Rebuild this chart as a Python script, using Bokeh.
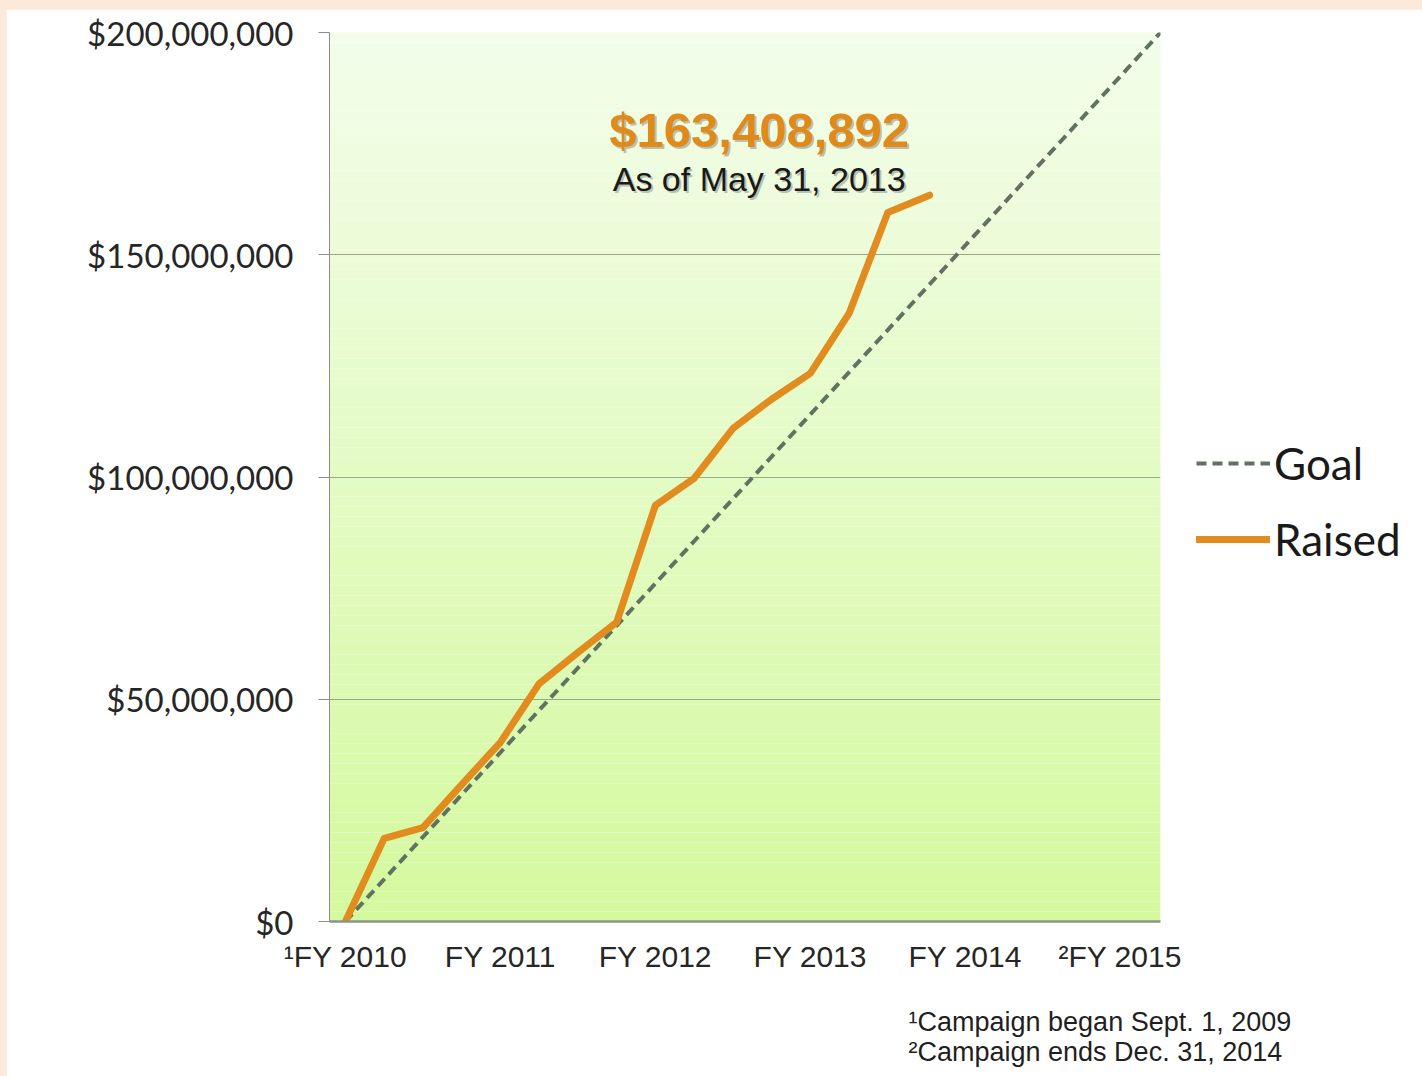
import numpy as np
from bokeh.plotting import figure
from bokeh.models import FixedTicker, Label, Legend, LegendItem, Range1d, Title
from bokeh.layouts import column
from bokeh.embed import file_html
from bokeh.resources import INLINE

# ---------------- data ----------------
fy_positions = [0, 1, 2, 3, 4, 5]
fy_labels = ["¹FY 2010", "FY 2011", "FY 2012", "FY 2013", "FY 2014", "²FY 2015"]

y_ticks = [0, 50_000_000, 100_000_000, 150_000_000, 200_000_000]
y_tick_labels = ["$0", "$50,000,000", "$100,000,000", "$150,000,000", "$200,000,000"]

raised_x = [0.0, 0.25, 0.5, 0.75, 1.0, 1.25, 1.5, 1.75, 2.0, 2.25, 2.5, 2.75, 3.0, 3.25, 3.5, 3.77]
raised_y = [0, 18_700_000, 21_100_000, 30_800_000, 40_300_000, 53_500_000, 60_500_000,
            67_300_000, 93_600_000, 99_700_000, 110_900_000, 117_500_000, 123_300_000,
            136_800_000, 159_500_000, 163_408_892]

goal_x = [0.0, 5.26]
goal_y = [0, 200_000_000]

total_label = "$163,408,892"
as_of_label = "As of May 31, 2013"
footnotes = ["¹Campaign began Sept. 1, 2009", "²Campaign ends Dec. 31, 2014"]

# ---------------- figure ----------------
X0, X1 = -0.103, 5.26
p = figure(frame_width=831, frame_height=889,
           min_border_left=323, min_border_right=262,
           min_border_top=23, min_border_bottom=155,
           x_range=Range1d(X0, X1), y_range=Range1d(0, 200_000_000),
           output_backend="svg", toolbar_location=None,
           background_fill_color="white", border_fill_color="white",
           margin=(9, 0, 0, 6))
p.outline_line_color = None

# gradient plot background (styling)
n = 90
edges = np.linspace(0, 200_000_000, n + 1)
bottom_rgb = np.array([212, 249, 158])
top_rgb = np.array([243, 253, 234])
cols = []
for i in range(n):
    t = (i + 0.5) / n
    c = bottom_rgb + (top_rgb - bottom_rgb) * t
    cols.append("#%02x%02x%02x" % tuple(int(round(v)) for v in c))
bg = p.quad(left=X0, right=X1, bottom=edges[:-1], top=edges[1:],
            fill_color=cols, line_color=None)
bg.level = "image"

# grid
p.xgrid.visible = False
p.ygrid.ticker = FixedTicker(ticks=y_ticks)
p.ygrid.grid_line_color = "#9aa98c"
p.ygrid.grid_line_width = 1.2

# axes
p.yaxis.ticker = FixedTicker(ticks=y_ticks)
p.yaxis.major_label_overrides = {t: l for t, l in zip(y_ticks, y_tick_labels)}
p.yaxis.major_label_text_font = "Lato"
p.yaxis.major_label_text_font_size = "33px"
p.yaxis.major_label_text_color = "#262626"
p.yaxis.major_label_standoff = 25
p.yaxis.axis_line_color = "#8c8c8c"
p.yaxis.major_tick_line_color = "#8c8c8c"
p.yaxis.major_tick_out = 11
p.yaxis.major_tick_in = 0
p.yaxis.minor_tick_line_color = None

p.xaxis.ticker = FixedTicker(ticks=fy_positions)
p.xaxis.major_label_overrides = {t: l for t, l in zip(fy_positions, fy_labels)}
p.xaxis.major_label_text_font = "Liberation Sans"
p.xaxis.major_label_text_font_size = "30px"
p.xaxis.major_label_text_color = "#262626"
p.xaxis.major_label_standoff = 12
p.xaxis.axis_line_color = "#8a968a"
p.xaxis.axis_line_width = 2.5
p.xaxis.major_tick_line_color = None
p.xaxis.minor_tick_line_color = None

# series
goal_r = p.line(goal_x, goal_y, line_color="#5f7360", line_width=4, line_dash="10 6")
raised_r = p.line(raised_x, raised_y, line_color="#e28b1e", line_width=7,
                  line_join="round", line_cap="round")

legend = Legend(items=[LegendItem(label="Goal", renderers=[goal_r]),
                       LegendItem(label="Raised", renderers=[raised_r])],
                location=(36, 356), orientation="vertical",
                glyph_width=74, glyph_height=50, label_height=50,
                label_standoff=4, spacing=24, padding=0, margin=0,
                label_text_font="Lato", label_text_font_size="44px",
                label_text_color="#1a1a1a",
                background_fill_alpha=0, border_line_color=None)
p.add_layout(legend, "right")

# annotation texts (with soft shadow)
for txt, yv, size, style, color in [(total_label, 178_000_000, "49px", "bold", "#e08a1c"),
                                     (as_of_label, 167_000_000, "34px", "normal", "#1a1a1a")]:
    p.add_layout(Label(x=2.67, y=yv, text=txt, text_align="center", text_baseline="middle",
                       text_font="Liberation Sans", text_font_size=size, text_font_style=style,
                       text_color="#777777", text_alpha=0.45, x_offset=2, y_offset=-2))
    p.add_layout(Label(x=2.67, y=yv, text=txt, text_align="center", text_baseline="middle",
                       text_font="Liberation Sans", text_font_size=size, text_font_style=style,
                       text_color=color))

p.add_layout(Title(text="\n".join(footnotes), align="left", offset=579, standoff=59,
                   text_font="Liberation Sans", text_font_size="27px",
                   text_line_height=1.0,
                   text_font_style="normal", text_color="#1f1f1f"), "below")

layout = column(p, styles={"background-color": "#fde9d9"})
open("out.html", "w").write(file_html(layout, INLINE))
